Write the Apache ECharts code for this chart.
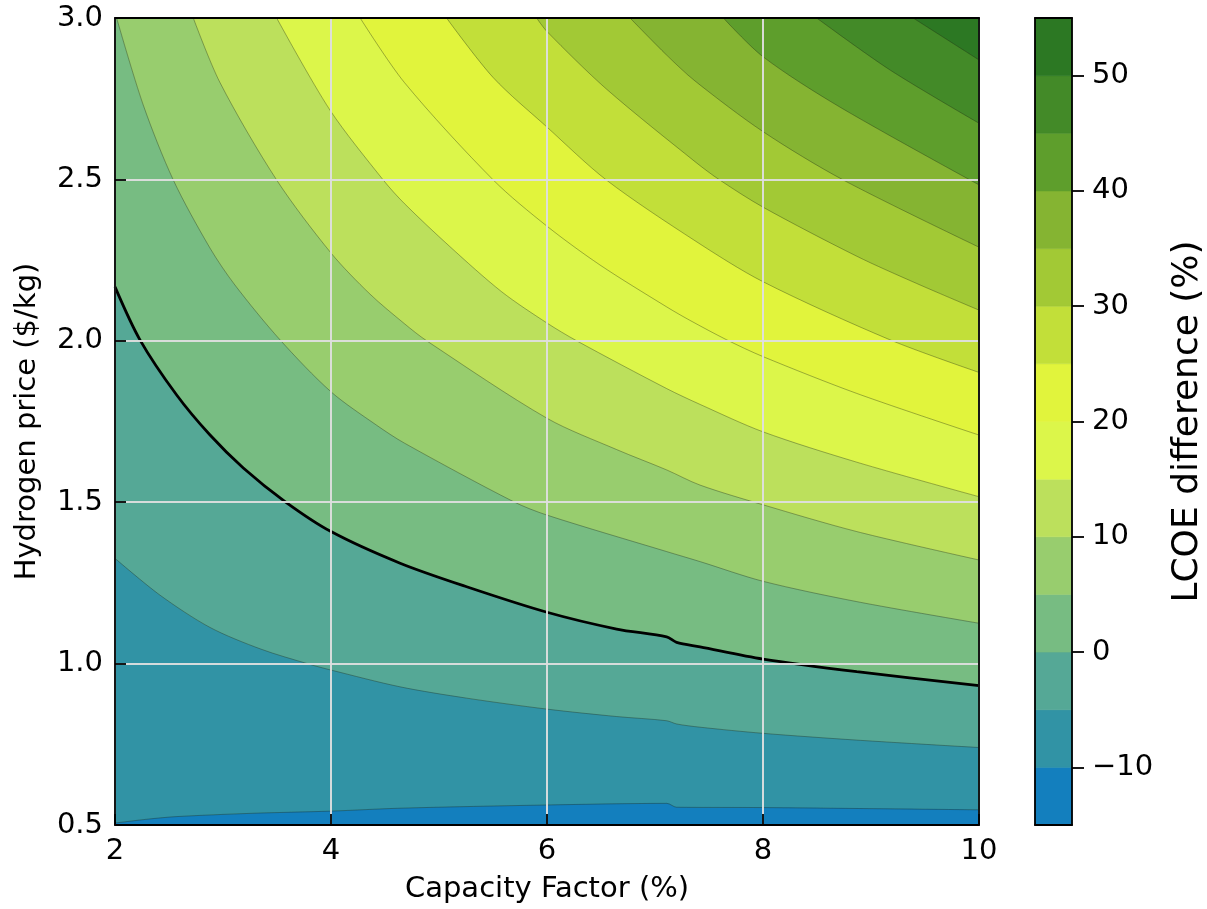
<!DOCTYPE html>
<html>
<head>
<meta charset="utf-8">
<script src="https://cdn.jsdelivr.net/npm/echarts@6/dist/echarts.min.js"></script>
<style>html,body{margin:0;padding:0;background:#fff}#c{width:1207px;height:909px}</style>
</head>
<body>
<div id="c"></div>
<script>
// ---- data ----
const levels = [-15, -10, -5, 0, 5, 10, 15, 20, 25, 30, 35, 40, 45, 50, 55];
const bandColors = ['#137FBE', '#3193A5', '#55A896', '#77BC82', '#98CD6E', '#BCE05C', '#DCF64A',
                    '#E1F43C', '#C2DF39', '#A2C935', '#85B432', '#5E9E2C', '#438A28', '#2C7823'];
const cbTicks = [-10, 0, 10, 20, 30, 40, 50];

// contour boundary curves [capacity factor, hydrogen price]
const contourM10 = [[2, 0.506], [2.3, 0.518], [2.57, 0.526], [3.25, 0.536], [4, 0.543], [4.64, 0.552], [6, 0.562], [7.11, 0.567], [7.2, 0.555], [8, 0.554], [10, 0.547]];
const contourM5 = [[2, 1.326], [2.417, 1.212], [2.88, 1.112], [3.35, 1.045], [3.8, 0.998], [4, 0.980], [4.64, 0.928], [5.256, 0.893], [6, 0.859], [6.645, 0.836], [7.108, 0.823], [7.2, 0.813], [7.417, 0.803], [8, 0.784], [8.868, 0.763], [10, 0.740]];
const contour0 = [[2, 2.167], [2.231, 2.003], [2.571, 1.832], [2.88, 1.708], [3.188, 1.606], [3.574, 1.502], [4, 1.409], [4.64, 1.311], [5.256, 1.238], [6, 1.159], [6.645, 1.107], [7.108, 1.083], [7.2, 1.066], [7.417, 1.052], [8, 1.014], [8.868, 0.975], [10, 0.932]];
const contour5 = [[2.015, 3.0], [2.262, 2.73], [2.54, 2.498], [2.88, 2.287], [3.11, 2.173], [3.528, 2.003], [4, 1.842], [4.42, 1.739], [4.68, 1.683], [5.688, 1.502], [6, 1.460], [7.108, 1.347], [7.417, 1.316], [8, 1.255], [8.868, 1.192], [10, 1.125]];
const contour10 = [[2.725, 3.0], [2.972, 2.80], [3.497, 2.498], [4, 2.272], [4.36, 2.145], [4.68, 2.053], [4.886, 2.0], [6, 1.760], [6.645, 1.663], [7.108, 1.600], [7.417, 1.553], [8, 1.492], [8.868, 1.409], [10, 1.321]];
const contour15 = [[3.497, 3.0], [3.99, 2.715], [4.484, 2.498], [4.68, 2.425], [5.10, 2.292], [5.58, 2.152], [6, 2.055], [6.275, 2.0], [7.108, 1.852], [7.417, 1.803], [8, 1.718], [8.868, 1.624], [10, 1.517]];
const contour20 = [[4.27, 3.0], [4.68, 2.80], [5.503, 2.498], [6, 2.355], [6.49, 2.235], [7.108, 2.105], [7.32, 2.064], [7.664, 2.003], [8, 1.951], [8.868, 1.837], [10, 1.708]];
const contour25 = [[5.07, 3.0], [5.503, 2.815], [6, 2.662], [6.55, 2.498], [7.37, 2.31], [8, 2.183], [9.176, 2.003], [10, 1.902]];
const contour30 = [[5.904, 3.0], [6.0, 2.958], [6.55, 2.78], [7.37, 2.555], [7.60, 2.498], [8.0, 2.414], [8.868, 2.262], [9.42, 2.178], [10, 2.095]];
const contour35 = [[6.769, 3.0], [7.108, 2.885], [7.37, 2.805], [8.0, 2.648], [8.744, 2.498], [10, 2.29]];
const contour40 = [[7.633, 3.0], [8.0, 2.88], [8.707, 2.725], [10, 2.483]];
const contour45 = [[8.497, 3.0], [9.176, 2.839], [10, 2.674]];
const contour50 = [[9.39, 3.0], [10, 2.870]];

const contourLevels = [-10, -5, 0, 5, 10, 15, 20, 25, 30, 35, 40, 45, 50];
const contourLines = [contourM10, contourM5, contour0, contour5, contour10, contour15, contour20,
                      contour25, contour30, contour35, contour40, contour45, contour50];

// ---- chart ----
const FONT = 'DejaVu Sans';
const chart = echarts.init(document.getElementById('c'), null, {renderer: 'canvas'});

const contourSeries = contourLines.map((pts, i) => {
  const lev = contourLevels[i];
  const colorIdx = levels.indexOf(lev);
  const isZero = lev === 0;
  return {
    type: 'line',
    xAxisIndex: 0, yAxisIndex: 0,
    data: pts,
    smooth: 0.3,
    symbol: 'none',
    silent: true,
    z: 2,
    lineStyle: isZero ? {color: '#000', width: 2.8} : {color: 'rgba(30,40,20,0.45)', width: 0.8},
    areaStyle: {origin: 'end', color: bandColors[colorIdx], opacity: 1}
  };
});

const cbData = bandColors.map((c, i) => [0.5, levels[i], levels[i + 1], i]);

const hiddenParts = {axisLabel: {show: false}, axisTick: {show: false}, splitLine: {show: false}};
const frameLine = {show: true, onZero: false, lineStyle: {color: '#000', width: 1.8}};

chart.setOption({
  animation: false,
  backgroundColor: '#fff',
  textStyle: {fontFamily: FONT},
  grid: [
    {left: 115, top: 18, width: 864, height: 807, show: true, backgroundColor: bandColors[0], borderWidth: 0},
    {left: 1035, top: 18, width: 40, height: 807, show: false}
  ],
  xAxis: [
    {
      type: 'value', gridIndex: 0, min: 2, max: 10, interval: 2, z: 5,
      axisLine: frameLine,
      axisTick: {show: true, inside: true, length: 11, lineStyle: {color: '#000', width: 1.8}},
      axisLabel: {color: '#000', fontSize: 29, fontFamily: FONT, margin: 12},
      splitLine: {show: true, lineStyle: {color: 'rgba(222,222,222,0.95)', width: 2}},
      name: 'Capacity Factor (%)', nameLocation: 'middle', nameGap: 50,
      nameTextStyle: {color: '#000', fontSize: 29, fontFamily: FONT}
    },
    Object.assign({type: 'value', gridIndex: 0, min: 2, max: 10, position: 'top', z: 5, axisLine: frameLine}, hiddenParts),
    Object.assign({type: 'value', gridIndex: 1, min: 0, max: 1, position: 'bottom', z: 5, axisLine: frameLine}, hiddenParts),
    Object.assign({type: 'value', gridIndex: 1, min: 0, max: 1, position: 'top', z: 5, axisLine: frameLine}, hiddenParts)
  ],
  yAxis: [
    {
      type: 'value', gridIndex: 0, min: 0.5, max: 3.0, interval: 0.5, z: 5,
      axisLine: frameLine,
      axisTick: {show: true, inside: true, length: 11, lineStyle: {color: '#000', width: 1.8}},
      axisLabel: {color: '#000', fontSize: 29, fontFamily: FONT, margin: 12, formatter: v => v.toFixed(1)},
      splitLine: {show: true, lineStyle: {color: 'rgba(222,222,222,0.95)', width: 2}},
      name: 'Hydrogen price ($/kg)', nameLocation: 'middle', nameGap: 73, nameRotate: 90,
      nameTextStyle: {color: '#000', fontSize: 29, fontFamily: FONT}
    },
    Object.assign({type: 'value', gridIndex: 0, min: 0.5, max: 3.0, position: 'right', z: 5, axisLine: frameLine}, hiddenParts),
    {
      type: 'value', gridIndex: 1, min: -15, max: 55, position: 'right', z: 5,
      axisLine: frameLine,
      axisTick: {show: true, inside: false, length: 12, customValues: cbTicks, lineStyle: {color: '#000', width: 1.8}},
      axisLabel: {color: '#000', fontSize: 29, fontFamily: FONT, margin: 20, customValues: cbTicks,
                  formatter: v => String(v).replace('-', '\u2212')},
      splitLine: {show: false},
      name: 'LCOE difference (%)', nameLocation: 'middle', nameGap: 98, nameRotate: 90,
      nameTextStyle: {color: '#000', fontSize: 36, fontFamily: FONT}
    },
    Object.assign({type: 'value', gridIndex: 1, min: -15, max: 55, position: 'left', z: 5, axisLine: frameLine}, hiddenParts)
  ],
  series: contourSeries.concat([{
    type: 'custom',
    xAxisIndex: 2, yAxisIndex: 2,
    silent: true,
    data: cbData,
    encode: {x: 0, y: [1, 2]},
    renderItem: function (params, api) {
      const lo = api.value(1), hi = api.value(2);
      const p1 = api.coord([0, hi]);
      const p2 = api.coord([1, lo]);
      const c = bandColors[api.value(3)];
      return {type: 'rect', shape: {x: p1[0], y: p1[1], width: p2[0] - p1[0], height: p2[1] - p1[1]},
              style: {fill: c, stroke: c, lineWidth: 0.6}};
    }
  }])
});
</script>
</body>
</html>
